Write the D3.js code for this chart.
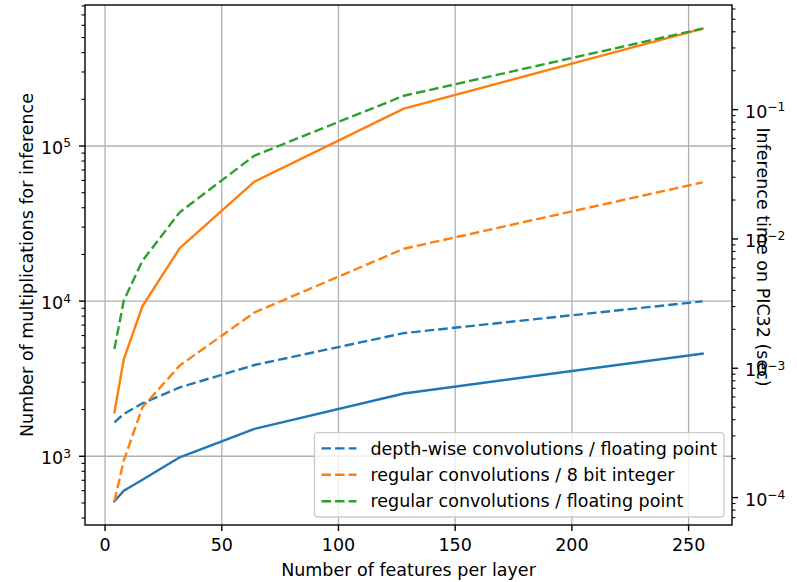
<!DOCTYPE html>
<html><head><meta charset="utf-8">
<script src="https://cdn.jsdelivr.net/npm/d3@7"></script>
<style>
body{margin:0;background:#fff}
text{font-family:"DejaVu Sans",sans-serif;fill:#000}
</style>
</head><body>
<svg id="chart" width="797" height="582"></svg>
<script>
// ---- data ----
const features = [4, 8, 16, 32, 64, 128, 256];
const multDepthwise = [512, 600, 705, 985, 1500, 2540, 4590];
const multRegular = [1920, 4210, 9270, 21980, 58900, 174000, 571000];
const timeDepthwiseFloat = [3.82e-4, 4.43e-4, 5.36e-4, 7.11e-4, 1.06e-3, 1.87e-3, 3.29e-3];
const timeRegularInt8 = [9.35e-5, 1.93e-4, 4.99e-4, 1.05e-3, 2.7e-3, 8.4e-3, 0.0274];
const timeRegularFloat = [1.41e-3, 3.33e-3, 6.79e-3, 0.0161, 0.0441, 0.128, 0.423];
const xTicks = [0, 50, 100, 150, 200, 250];
const leftTickExps = [3, 4, 5];
const rightTickExps = [-4, -3, -2, -1];
const legendLabels = [
  "depth-wise convolutions / floating point",
  "regular convolutions / 8 bit integer",
  "regular convolutions / floating point"
];
const xLabel = "Number of features per layer";
const yLeftLabel = "Number of multiplications for inference";
const yRightLabel = "Inference time on PIC32 (sec)";

const C = {blue:"#1f77b4", orange:"#ff7f0e", green:"#2ca02c"};

// ---- layout ----
const L = 85, R = 732, T = 5, B = 525;
const FS = 17.5;
const svg = d3.select("#chart");

function linPad(arr){const mn=d3.min(arr), mx=d3.max(arr), p=(mx-mn)*0.05; return [mn-p, mx+p];}
function logPad(arr){const mn=Math.log10(d3.min(arr)), mx=Math.log10(d3.max(arr)), p=(mx-mn)*0.05; return [Math.pow(10,mn-p), Math.pow(10,mx+p)];}

const x = d3.scaleLinear().domain(linPad(features)).range([L, R]);
const yL = d3.scaleLog().domain(logPad(multDepthwise.concat(multRegular))).range([B, T]);
const yR = d3.scaleLog().domain(logPad(timeDepthwiseFloat.concat(timeRegularInt8, timeRegularFloat))).range([B, T]);

// clip
svg.append("defs").append("clipPath").attr("id","clip")
  .append("rect").attr("x",L).attr("y",T).attr("width",R-L).attr("height",B-T);

// grid
const grid = svg.append("g").attr("stroke","#b0b0b0").attr("stroke-width",1.3);
xTicks.forEach(v=>grid.append("line").attr("x1",x(v)).attr("x2",x(v)).attr("y1",T).attr("y2",B));
leftTickExps.forEach(e=>grid.append("line").attr("x1",L).attr("x2",R).attr("y1",yL(Math.pow(10,e))).attr("y2",yL(Math.pow(10,e))));

// lines
const lineL = d3.line().x((d,i)=>x(features[i])).y(d=>yL(d));
const lineR = d3.line().x((d,i)=>x(features[i])).y(d=>yR(d));
const plot = svg.append("g").attr("clip-path","url(#clip)").attr("fill","none").attr("stroke-width",2.4).attr("stroke-linejoin","round");
plot.append("path").attr("d",lineL(multDepthwise)).attr("stroke",C.blue).attr("stroke-linecap","square");
plot.append("path").attr("d",lineL(multRegular)).attr("stroke",C.orange).attr("stroke-linecap","square");
const dash = "9.5,4.1";
plot.append("path").attr("d",lineR(timeDepthwiseFloat)).attr("stroke",C.blue).attr("stroke-dasharray",dash);
plot.append("path").attr("d",lineR(timeRegularInt8)).attr("stroke",C.orange).attr("stroke-dasharray",dash);
plot.append("path").attr("d",lineR(timeRegularFloat)).attr("stroke",C.green).attr("stroke-dasharray",dash);

// spines
svg.append("rect").attr("x",L).attr("y",T).attr("width",R-L).attr("height",B-T)
  .attr("fill","none").attr("stroke","#000").attr("stroke-width",1.4);

// x ticks
const ax = svg.append("g");
xTicks.forEach(v=>{
  ax.append("line").attr("x1",x(v)).attr("x2",x(v)).attr("y1",B).attr("y2",B+6).attr("stroke","#000").attr("stroke-width",1.4);
  ax.append("text").attr("x",x(v)).attr("y",B+12).attr("dy","0.8em").attr("text-anchor","middle").attr("font-size",FS).text(v);
});

function minorTicks(scale){
  const [a,b] = scale.domain(); const out=[];
  for(let e=Math.floor(Math.log10(a)); e<=Math.ceil(Math.log10(b)); e++){
    for(let k=2;k<=9;k++){const v=k*Math.pow(10,e); if(v>=a && v<=b) out.push(v);}
  }
  return out;
}
function supLabel(g, xx, yy, exp, anchor){
  const t = g.append("text").attr("x",xx).attr("y",yy).attr("dy","0.35em").attr("text-anchor",anchor).attr("font-size",FS);
  t.append("tspan").text("10");
  t.append("tspan").attr("font-size",FS*0.7).attr("dy","-0.55em").text(String(exp).replace("-","\u2212"));
}
// left axis
minorTicks(yL).forEach(v=>ax.append("line").attr("x1",L).attr("x2",L-3.5).attr("y1",yL(v)).attr("y2",yL(v)).attr("stroke","#000").attr("stroke-width",1.1));
leftTickExps.forEach(e=>{
  const yy=yL(Math.pow(10,e));
  ax.append("line").attr("x1",L).attr("x2",L-6).attr("y1",yy).attr("y2",yy).attr("stroke","#000").attr("stroke-width",1.4);
  supLabel(ax, L-14, yy+2, e, "end");
});
// right axis
minorTicks(yR).forEach(v=>ax.append("line").attr("x1",R).attr("x2",R+3.5).attr("y1",yR(v)).attr("y2",yR(v)).attr("stroke","#000").attr("stroke-width",1.1));
rightTickExps.forEach(e=>{
  const yy=yR(Math.pow(10,e));
  ax.append("line").attr("x1",R).attr("x2",R+6).attr("y1",yy).attr("y2",yy).attr("stroke","#000").attr("stroke-width",1.4);
  supLabel(ax, R+13, yy+2, e, "start");
});

// axis labels
svg.append("text").attr("x",(L+R)/2).attr("y",576).attr("text-anchor","middle").attr("font-size",FS).text(xLabel);
svg.append("text").attr("transform",`translate(33,${(T+B)/2}) rotate(-90)`).attr("text-anchor","middle").attr("font-size",FS).text(yLeftLabel);
svg.append("text").attr("transform",`translate(757,${(T+B)/2 - 8}) rotate(90)`).attr("text-anchor","middle").attr("font-size",FS).text(yRightLabel);

// legend
const lg = svg.append("g");
const pad = 7, rowH = 26.4, hl = 35, htp = 14;
const colors = [C.blue, C.orange, C.green];
const tmp = lg.append("text").attr("font-size",FS).text(legendLabels[0]);
const tw = d3.max(legendLabels, s=>{tmp.text(s); return tmp.node().getComputedTextLength();});
tmp.remove();
const bw = pad + hl + htp + tw + pad, bh = pad*2 + rowH*3 - 8.8 + 0;
const bx = R - 8 - bw, by = B - 8 - bh;
lg.append("rect").attr("x",bx).attr("y",by).attr("width",bw).attr("height",bh).attr("rx",3.5)
  .attr("fill","#fff").attr("fill-opacity",0.8).attr("stroke","#cccccc").attr("stroke-width",1.4);
legendLabels.forEach((s,i)=>{
  const cy = by + pad + 8.8 + i*rowH;
  lg.append("line").attr("x1",bx+pad).attr("x2",bx+pad+hl).attr("y1",cy).attr("y2",cy)
    .attr("stroke",colors[i]).attr("stroke-width",2.4).attr("stroke-dasharray",dash);
  lg.append("text").attr("x",bx+pad+hl+htp).attr("y",cy).attr("dy","0.35em").attr("font-size",FS).text(s);
});
</script>
</body></html>
